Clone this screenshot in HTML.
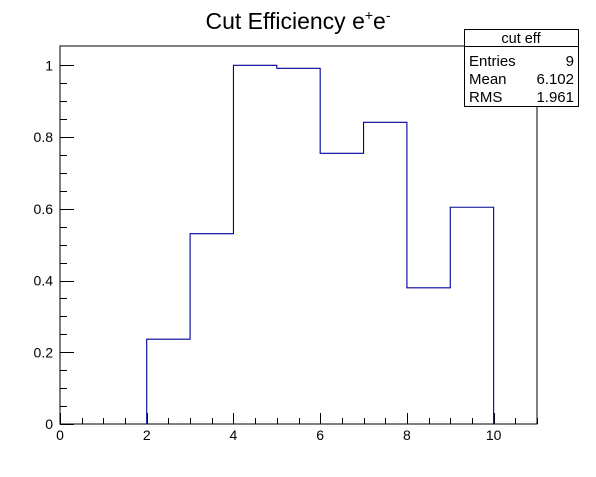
<!DOCTYPE html>
<html><head><meta charset="utf-8"><style>
body{margin:0;background:#fff;}
svg text{font-family:"Liberation Sans",Arial,sans-serif;}
</style></head><body>
<svg width="596" height="472">
<rect width="596" height="472" fill="#fff"/>
<text x="298" y="29" font-size="23" text-anchor="middle">Cut Efficiency e<tspan dy="-9" font-size="14">+</tspan><tspan dy="9">e</tspan><tspan dy="-9" font-size="14">-</tspan></text>
<rect x="60" y="46" width="477" height="378" fill="none" stroke="#000" stroke-width="1"/>
<g id="axes"></g>
<path id="hist" fill="none" stroke="#000099" stroke-width="1.1"/>
<g>
<rect x="464.5" y="29.5" width="114" height="77" fill="#fff" stroke="#000"/>
<line x1="464.5" y1="46.5" x2="578.5" y2="46.5" stroke="#000"/>
<text x="521" y="43" font-size="14.5" text-anchor="middle">cut eff</text>
<text x="469" y="66" font-size="15">Entries</text><text x="574" y="66" font-size="15" text-anchor="end">9</text>
<text x="469" y="84" font-size="15">Mean</text><text x="574" y="84" font-size="15" text-anchor="end">6.102</text>
<text x="469" y="102" font-size="15">RMS</text><text x="574" y="102" font-size="15" text-anchor="end">1.961</text>
</g>
</svg>
<script>
const binEdges=[2,3,4,5,6,7,8,9,10];
const binValues=[0.2366,0.5305,1.0,0.9916,0.7546,0.8412,0.3798,0.6043];
const xTicks=[0,2,4,6,8,10];
const yTicks=[0,0.2,0.4,0.6,0.8,1];
const X0=60,X1=537,Y0=424,Y1=46,xmin=0,xmax=11,ymin=0,ymax=1.0539;
const sx=v=>X0+(v-xmin)/(xmax-xmin)*(X1-X0);
const sy=v=>Y0-(v-ymin)/(ymax-ymin)*(Y0-Y1);
const NS="http://www.w3.org/2000/svg";
const ax=document.getElementById('axes');
function line(x1,y1,x2,y2,name){const l=document.createElementNS(NS,'line');
l.setAttribute('x1',x1);l.setAttribute('y1',y1);l.setAttribute('x2',x2);l.setAttribute('y2',y2);l.setAttribute('stroke','#000');


ax.appendChild(l);}
function text(x,y,s,anchor,name){const t=document.createElementNS(NS,'text');
t.setAttribute('x',x);t.setAttribute('y',y);t.setAttribute('font-size','14');t.setAttribute('text-anchor',anchor);t.textContent=s;


ax.appendChild(t);}
for(let v=0;v<=11.001;v+=0.5){const x=Math.round(sx(v))+0.5;const major=Math.abs(v/2-Math.round(v/2))<1e-6;line(x,Y0,x,Y0-(major?11:6),'x-tick');}
xTicks.forEach(v=>text(sx(v),440,String(v),'middle','x-tick-label'));
for(let v=0;v<=1.05;v+=0.05){const y=Math.round(sy(v))+0.5;const major=Math.abs(v/0.2-Math.round(v/0.2))<1e-6;line(X0,y,X0+(major?14:7),y,'y-tick');}
yTicks.forEach(v=>text(53,sy(v)+5,String(v),'end','y-tick-label'));
let d='M'+sx(binEdges[0])+','+sy(0);
binValues.forEach((v,i)=>{d+=' L'+sx(binEdges[i])+','+sy(v)+' L'+sx(binEdges[i+1])+','+sy(v);});
d+=' L'+sx(binEdges[binEdges.length-1])+','+sy(0);
document.getElementById('hist').setAttribute('d',d);
</script>
</body></html>
